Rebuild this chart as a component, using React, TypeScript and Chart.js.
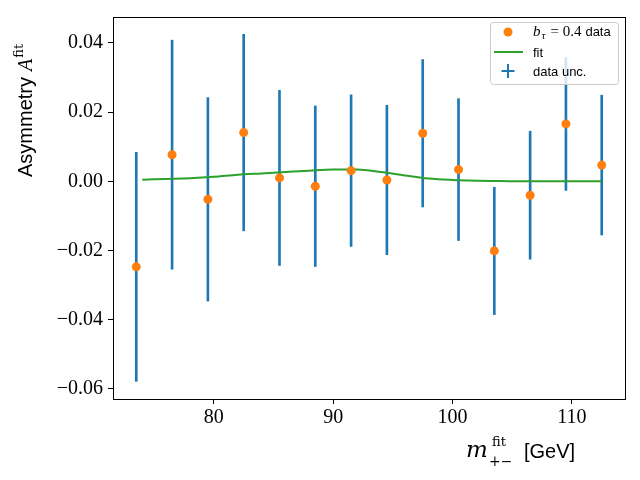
import React, { useRef, useEffect } from 'react';
import Chart from 'chart.js/auto';

// bin centres in m_{+-}^fit [GeV]
const massBins = [73.5, 76.5, 79.5, 82.5, 85.5, 88.5, 91.5, 94.5, 97.5, 100.5, 103.5, 106.5, 109.5, 112.5];
// measured asymmetry per bin and its uncertainty
const asymmetry = [-0.0247, 0.0077, -0.0052, 0.0141, 0.001, -0.0014, 0.0031, 0.0004, 0.0139, 0.0034, -0.0201, -0.004, 0.0166, 0.0047];
const asymErr = [0.0331, 0.0331, 0.0294, 0.0284, 0.0253, 0.0232, 0.0219, 0.0216, 0.0213, 0.0205, 0.0184, 0.0185, 0.0192, 0.0202];
// fitted curve
const fitMass = [74, 76, 78, 80, 82, 84, 86, 88, 90, 92, 94, 96, 98, 100, 102, 104, 106, 108, 110, 112.5];
const fitAsym = [0.0005, 0.0007, 0.0009, 0.0013, 0.0019, 0.0023, 0.0027, 0.0031, 0.0034, 0.0034, 0.0027, 0.0017, 0.0008, 0.0004, 0.0002, 0.0001, 0.0, 0.0, 0.0, 0.0];

const xTicks = [80, 90, 100, 110];
const yTicks = [-0.06, -0.04, -0.02, 0, 0.02, 0.04];

const BLUE = '#1f77b4';
const ORANGE = '#ff7f0e';
const GREEN = '#2ca02c';

// draw text pieces one after another; each piece may shift its baseline
const drawRun = (ctx: CanvasRenderingContext2D, parts: any[], x: number, y: number) => {
  let cx = x;
  parts.forEach((p) => {
    ctx.font = p.font;
    if (p.gap) cx += p.gap;
    ctx.fillText(p.text, cx, y + (p.dy || 0));
    cx += ctx.measureText(p.text).width;
  });
};

const decorPlugin = {
  id: 'decor',
  afterDraw(chart: any) {
    const { ctx, chartArea: a } = chart;
    ctx.save();
    // axes frame
    ctx.strokeStyle = '#000';
    ctx.lineWidth = 1;
    ctx.strokeRect(a.left + 0.5, a.top + 0.5, a.right - a.left, a.bottom - a.top);

    ctx.fillStyle = '#000';
    ctx.textBaseline = 'alphabetic';
    ctx.textAlign = 'left';

    // x label
    drawRun(ctx, [{ text: 'm', font: 'italic 23px "DejaVu Serif"' }], 466, 457);
    drawRun(ctx, [{ text: 'fit', font: '13px "DejaVu Serif"' }], 492, 446);
    drawRun(ctx, [{ text: '+\u2212', font: '14px "DejaVu Serif"' }], 489, 466);
    drawRun(ctx, [{ text: '[GeV]', font: '20px "Liberation Sans"' }], 524, 458);

    // y label
    ctx.save();
    ctx.translate(32, 177);
    ctx.rotate(-Math.PI / 2);
    drawRun(ctx, [
      { text: 'Asymmetry', font: '20px "Liberation Sans"' },
      { text: 'A', font: 'italic 20px "Liberation Serif"', gap: 6 },
      { text: 'fit', font: '13px "DejaVu Serif"', dy: -9, gap: 1 },
    ], 0, 0);
    ctx.restore();

    // legend
    ctx.beginPath();
    ctx.roundRect(490.5, 22.5, 128, 62, 3);
    ctx.fillStyle = 'rgba(255,255,255,0.8)';
    ctx.fill();
    ctx.strokeStyle = '#cccccc';
    ctx.stroke();

    ctx.fillStyle = ORANGE;
    ctx.beginPath();
    ctx.arc(508, 32, 4.5, 0, Math.PI * 2);
    ctx.fill();

    ctx.strokeStyle = GREEN;
    ctx.lineWidth = 2;
    ctx.beginPath();
    ctx.moveTo(494, 52);
    ctx.lineTo(523, 52);
    ctx.stroke();

    ctx.strokeStyle = BLUE;
    ctx.beginPath();
    ctx.moveTo(508, 64);
    ctx.lineTo(508, 78);
    ctx.moveTo(501.5, 71);
    ctx.lineTo(514.5, 71);
    ctx.stroke();

    ctx.fillStyle = '#000';
    drawRun(ctx, [
      { text: 'b', font: 'italic 15px "Liberation Serif"' },
      { text: '\u03c4', font: 'italic 11px "Liberation Serif"', dy: 3, gap: 1 },
      { text: '= 0.4', font: '15px "Liberation Serif"', gap: 5 },
      { text: 'data', font: '13px "Liberation Sans"', gap: 4 },
    ], 533, 36);
    drawRun(ctx, [{ text: 'fit', font: '13px "Liberation Sans"' }], 533, 57);
    drawRun(ctx, [{ text: 'data unc.', font: '13px "Liberation Sans"' }], 533, 76);
    ctx.restore();
  },
};

const fmtY = (v: number) => {
  const s = Math.abs(v).toFixed(2);
  return v < -1e-9 ? '\u2212' + s : s;
};

const AsymmetryChart = () => {
  const chartRef = useRef<any>(null);
  const canvasRef = useRef<any>(null);

  useEffect(() => {
    if (chartRef.current) chartRef.current.destroy();
    const ctx = canvasRef.current.getContext('2d');
    chartRef.current = new Chart(ctx, {
      type: 'scatter',
      data: {
        datasets: [
          {
            type: 'scatter',
            label: 'data',
            data: massBins.map((x, i) => ({ x, y: asymmetry[i] })),
            backgroundColor: ORANGE,
            borderWidth: 0,
            pointRadius: 4.5,
            order: 0,
          },
          {
            type: 'line',
            label: 'fit',
            data: fitMass.map((x, i) => ({ x, y: fitAsym[i] })),
            borderColor: GREEN,
            borderWidth: 2,
            pointRadius: 0,
            cubicInterpolationMode: 'monotone',
            order: 1,
          },
          {
            type: 'bar',
            label: 'data unc.',
            data: massBins.map((x, i) => ({ x, y: [asymmetry[i] - asymErr[i], asymmetry[i] + asymErr[i]] })),
            backgroundColor: BLUE,
            borderWidth: 0,
            barThickness: 2,
            order: 2,
          },
        ] as any,
      },
      options: {
        responsive: false,
        animation: false,
        events: [],
        layout: { padding: { left: 0, top: 15, right: 15, bottom: 0 } },
        plugins: { legend: { display: false }, tooltip: { enabled: false } },
        scales: {
          x: {
            type: 'linear',
            min: 71.55,
            max: 114.45,
            offset: false,
            afterBuildTicks: (s: any) => { s.ticks = xTicks.map((value) => ({ value })); },
            afterFit: (s: any) => { s.height = 81; },
            grid: { offset: false, drawOnChartArea: false, drawTicks: true, tickLength: 5, color: '#000' },
            border: { display: false },
            ticks: {
              color: '#000',
              font: { family: 'Liberation Serif', size: 20 },
              padding: 2,
              maxRotation: 0,
              callback: (v: any) => String(v),
            },
          },
          y: {
            type: 'linear',
            min: -0.0629,
            max: 0.0475,
            afterBuildTicks: (s: any) => { s.ticks = yTicks.map((value) => ({ value })); },
            afterFit: (s: any) => { s.width = 113; },
            grid: { drawOnChartArea: false, drawTicks: true, tickLength: 5, color: '#000' },
            border: { display: false },
            ticks: {
              color: '#000',
              font: { family: 'Liberation Serif', size: 20 },
              padding: 5,
              callback: (v: any) => fmtY(v),
            },
          },
        },
      } as any,
      plugins: [decorPlugin],
    });

    return () => {
      chartRef.current.destroy();
      chartRef.current = null;
    };
  }, []);

  return <canvas ref={canvasRef} width="640" height="480"></canvas>;
};

export default function App() {
  return (
    <div style={{ position: 'fixed', left: 0, top: 0, width: 640, height: 480, background: '#fff' }}>
      <AsymmetryChart />
    </div>
  );
}
